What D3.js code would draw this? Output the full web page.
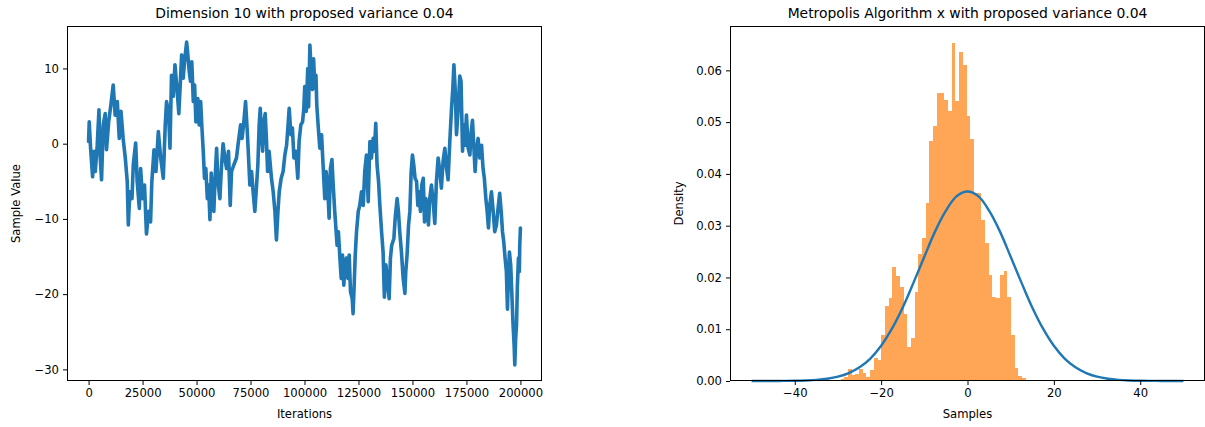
<!DOCTYPE html>
<html>
<head>
<meta charset="utf-8">
<script src="https://cdn.jsdelivr.net/npm/d3@7"></script>
<style>
  body { margin: 0; background: #fff; }
  text { font-family: "DejaVu Sans", sans-serif; fill: #000; }
</style>
</head>
<body>
<svg id="fig" width="1205" height="427"></svg>
<script>
// ---- Trace of the Metropolis chain (dimension 10) ----
const traceIter = [
  0, 300, 600, 926, 1850, 2470, 3090, 4000, 4800, 5400, 6000, 6800, 7700, 8300, 9300, 10300, 11400, 12300, 13300, 14200,
  15000, 16000, 17000, 17900, 18400, 19100, 20100, 20700, 21800, 22500, 23500, 24100, 25000, 25900, 26800, 27800, 28700, 29300, 30300, 31200,
  32300, 33400, 34600, 35500, 36100, 37000, 37700, 38400, 39200, 40000, 41000, 41800, 43100, 43800, 44600, 45400,
  45700, 46600, 47200, 47800, 48500, 49100, 49700, 50600, 51200, 51900, 52500, 53100, 53700, 54300, 55000, 55600, 56200, 56800, 57400, 58000,
  58600, 59300, 59900, 60800, 61600, 62300, 63100, 63900, 64800, 65600, 66200, 67300, 68500, 69400, 70400, 71100, 71900, 72700, 73500, 74100,
  74700, 75500, 76200, 77000, 77800, 78400, 79000, 79500, 80100, 80600, 81200, 81800, 82400, 82900, 83600, 84700, 85500, 86300, 87000, 87700,
  88300, 89200, 90100, 90900, 91700, 92400, 92900, 93700, 94400, 95100, 96000, 96900, 97500, 98300, 99100, 99700, 100100, 100800, 101500,
  101900, 102500, 103100, 103700, 104200, 104800, 105300, 105700, 106300, 107100, 107900, 108600, 109400, 110000, 110700, 111400, 112000, 112700, 113300, 114000,
  115100, 115700, 116400, 117000, 117600, 118200, 118800, 119400, 120100, 120700, 121300, 122100, 122500, 123000, 123500, 124100, 124900, 125600, 126400, 127200,
  127900, 128700, 129500, 130300, 131000, 131800, 132400, 133000, 133600, 134300, 134900, 135700, 136400, 137000, 137700, 138300, 139200, 139800, 140400, 141400,
  142000, 142900, 143500, 144100, 144900, 145700, 146500, 146900, 147500, 148200, 148800, 149400, 150000, 150600, 151200, 151900, 152500, 153100, 153700, 154300,
  155000, 155600, 156200, 157100,
  157400, 158000, 158800, 159600, 160350, 161100, 161900, 162700, 163400, 164200, 165000, 165800, 166500, 167300, 168100, 168700, 169200, 169800, 170400, 171200,
  171900, 172500, 173200, 173800, 174400, 175000, 175800, 176600, 177200, 177800, 178400, 179000, 179600, 180400, 181200, 182000, 182700, 183300, 184000, 184600,
  185200, 185800, 186600, 187400, 188100, 188900, 189500, 190400, 191100, 191700, 192300, 192900, 193500, 194000, 194500, 194900, 195500, 196000, 196600, 197100,
  197400, 197800, 198200, 198600, 199100, 199500, 199700, 200000
];
const traceValue = [
  0.3, 2.9, 1.2, -0.6, -4.4, -1.0, -3.7, -0.2, 4.5, -1.9, -4.8, 2.5, 4.0, -0.8, 2.9, 5.1, 7.8, 3.8, 5.6, 0.7,
  4.3, 0.7, -1.9, -5.0, -10.8, -6.4, -7.3, -2.8, 0.1, -5.0, -8.6, -3.3, -7.3, -5.5, -12.0, -9.0, -10.4, -5.0, -0.8, -3.7,
  1.6, -1.9, -4.6, 2.5, 5.6, 4.3, -0.6, 9.1, 6.3, 10.5, 7.1, 4.0, 11.8, 8.7, 11.4, 13.5,
  12.7, 9.6, 8.3, 10.9, 5.6, 7.8, 2.9, 6.0, 2.5, 5.6, 2.1, -1.0, -4.6, -3.3, -7.3, -5.5, -10.1, -3.9, -7.3, -9.0,
  -4.6, -0.6, -5.0, -7.3, -2.8, 0.0, -1.9, -3.3, -1.0, -8.2, -3.7, -2.8, -1.9, 0.3, 2.5, 0.7, 2.9, 5.6, 1.6, -1.9,
  -5.5, -3.7, -6.4, -9.0, -5.5, -2.8, 2.5, 4.7, 1.2, -1.0, 2.9, 4.0, 0.3, -3.7, -1.0, -4.6, -6.4, -9.0, -12.8, -9.0,
  -6.4, -4.6, -3.7, -1.5, -0.2, 2.5, 4.7, 1.2, 2.1, -1.9, -1.0, -4.6, 0.3, 2.5, 2.9, 4.7, 7.6, 4.3, 10.0,
  4.9, 13.1, 9.6, 7.2, 11.3, 7.4, 9.1, 5.1, 2.5, -0.6, 1.2, -2.8, -7.3, -3.7, -5.5, -9.9, -3.3, -2.1, -5.5, -9.0,
  -13.5, -11.7, -15.2, -17.9, -14.8, -18.8, -16.1, -15.2, -17.9, -14.8, -19.7, -20.6, -22.6, -18.8, -14.8, -11.7, -9.0, -8.2, -6.4, -8.2,
  -3.7, -1.5, -7.7, 0.3, -1.9, 0.7, -1.0, 2.7, -2.8, -5.0, -8.2, -11.7, -14.4, -20.4, -16.1, -17.9, -20.6, -15.2, -13.5, -12.6,
  -9.9, -7.3, -9.0, -11.7, -14.4, -17.9, -19.9, -17.0, -14.8, -10.8, -9.0, -3.7, -1.5, -2.8, -4.6, -5.0, -8.2, -6.4, -9.0, -5.5,
  -4.6, -10.4, -7.3, -9.0,
  -10.8, -7.3, -5.5, -7.7, -10.6, -5.0, -1.9, -3.7, -5.9, -2.3, -0.6, -3.3, -4.8, 0.3, 4.7, 7.4, 10.5, 7.2, 1.2, 4.7,
  9.0, 8.3, -1.0, 2.5, -0.2, 3.8, -0.6, -1.5, 1.6, 3.1, -0.2, -3.7, -1.0, 0.7, -1.9, -0.2, -3.3, -4.6, -7.3, -9.0,
  -11.2, -8.2, -6.4, -9.0, -11.7, -10.8, -9.0, -6.6, -9.0, -11.7, -13.1, -15.2, -17.0, -22.0, -17.0, -14.4, -16.1, -19.7, -24.1, -26.8,
  -29.4, -25.9, -24.1, -18.8, -15.2, -17.0, -13.5, -11.2
];
const traceXTicks = [0, 25000, 50000, 75000, 100000, 125000, 150000, 175000, 200000];
const traceYTicks = [-30, -20, -10, 0, 10];

// ---- Histogram of the samples (50 equal bins over the sample range), density ----
const histDensity = [
  0.0003, 0.0008, 0.0024, 0.0011, 0.0014, 0.0024, 0.0015, 0.0007, 0.0021, 0.0045,
  0.0040, 0.0088, 0.0144, 0.0160, 0.0220, 0.0202, 0.0181, 0.0130, 0.0066, 0.0083,
  0.0172, 0.0245, 0.0276, 0.0344, 0.0463, 0.0492, 0.0556, 0.0556, 0.0542, 0.0521,
  0.0653, 0.0541, 0.0635, 0.0610, 0.0511, 0.0467, 0.0364, 0.0364, 0.0310, 0.0267,
  0.0204, 0.0163, 0.0160, 0.0205, 0.0212, 0.0162, 0.0088, 0.0025, 0.0010, 0.0005
];
// ---- Target normal density ----
const pdfX = [-50, -47.5, -45, -42.5, -40, -37.5, -35, -32.5, -30, -27.5, -25, -22.5, -20, -17.5, -15, -12.5, -10, -7.5, -5, -2.5,
  0, 2.5, 5, 7.5, 10, 12.5, 15, 17.5, 20, 22.5, 25, 27.5, 30, 32.5, 35, 37.5, 40, 42.5, 45, 47.5, 50];
const pdfY = [0, 0, 0.00001, 0.00002, 0.00004, 0.0001, 0.00021, 0.00043, 0.00083, 0.00152, 0.00264, 0.00434, 0.0068, 0.0101, 0.0142, 0.0190, 0.0240, 0.0289, 0.0329, 0.0357,
  0.0366, 0.0357, 0.0329, 0.0289, 0.0240, 0.0190, 0.0142, 0.0101, 0.0068, 0.00434, 0.00264, 0.00152, 0.00083, 0.00043, 0.00021, 0.0001, 0.00004, 0.00002, 0.00001, 0, 0];
const histXTicks = [-40, -20, 0, 20, 40];
const histYTicks = [0, 0.01, 0.02, 0.03, 0.04, 0.05, 0.06];

const BLUE = "#1f77b4", ORANGE = "#ff7f0e";
const TICK_FONT = 11.6, TITLE_FONT = 13.9;
const svg = d3.select("#fig");

function pad(ext, f) { const d = (ext[1] - ext[0]) * f; return [ext[0] - d, ext[1] + d]; }

function frame(g, x0, x1, y0, y1) {
  g.append("rect").attr("x", x0 + 0.5).attr("y", y0 + 0.5)
    .attr("width", x1 - x0 - 1).attr("height", y1 - y0 - 1)
    .attr("fill", "none").attr("stroke", "#000").attr("stroke-width", 1);
}

function styleAxis(sel) {
  sel.select(".domain").remove();
  sel.selectAll(".tick line").attr("stroke", "#000").attr("stroke-width", 1);
  sel.selectAll(".tick text").style("font-size", TICK_FONT + "px").attr("fill", "#000")
    .style("font-family", '"DejaVu Sans", sans-serif');
}

// ================= Left panel: trace =================
{
  const L = { x0: 67, x1: 542, y0: 26, y1: 381 };
  const x = d3.scaleLinear().domain(pad(d3.extent(traceIter), 0.05)).range([L.x0, L.x1]);
  const y = d3.scaleLinear().domain(pad(d3.extent(traceValue), 0.05)).range([L.y1, L.y0]);
  const g = svg.append("g");

  g.append("defs").append("clipPath").attr("id", "clipL")
    .append("rect").attr("x", L.x0).attr("y", L.y0).attr("width", L.x1 - L.x0).attr("height", L.y1 - L.y0);

  // the dense chain reads as a thick band, so the stroke is wide
  g.append("path")
    .datum(traceIter.map((t, i) => [t, traceValue[i]]))
    .attr("clip-path", "url(#clipL)")
    .attr("fill", "none").attr("stroke", BLUE).attr("stroke-width", 3.6)
    .attr("stroke-linejoin", "round").attr("stroke-linecap", "round")
    .attr("d", d3.line().x(d => x(d[0])).y(d => y(d[1])));

  g.append("g").attr("transform", `translate(0,${L.y1})`)
    .call(d3.axisBottom(x).tickValues(traceXTicks).tickFormat(d3.format("d")).tickSize(4).tickPadding(4))
    .call(styleAxis);
  g.append("g").attr("transform", `translate(${L.x0},0)`)
    .call(d3.axisLeft(y).tickValues(traceYTicks).tickFormat(d3.format("d")).tickSize(4).tickPadding(4))
    .call(styleAxis);

  frame(g, L.x0, L.x1, L.y0, L.y1);

  g.append("text").attr("x", (L.x0 + L.x1) / 2).attr("y", 18).attr("text-anchor", "middle")
    .style("font-size", TITLE_FONT + "px").text("Dimension 10 with proposed variance 0.04");
  g.append("text").attr("x", (L.x0 + L.x1) / 2).attr("y", 418).attr("text-anchor", "middle")
    .style("font-size", TICK_FONT + "px").text("Iterations");
  g.append("text").attr("transform", `translate(20,${(L.y0 + L.y1) / 2}) rotate(-90)`)
    .attr("text-anchor", "middle").style("font-size", TICK_FONT + "px").text("Sample Value");
}

// ================= Right panel: histogram + normal pdf =================
{
  const R = { x0: 730, x1: 1205, y0: 26, y1: 381 };
  const x = d3.scaleLinear().domain(pad(d3.extent(pdfX), 0.05)).range([R.x0, R.x1]);
  const y = d3.scaleLinear().domain([0, d3.max(histDensity) * 1.05]).range([R.y1, R.y0]);
  const g = svg.append("g");

  const [lo, hi] = d3.extent(traceValue);
  const nb = histDensity.length, bw = (hi - lo) / nb;
  const bins = histDensity.map((d, i) => ({ a: lo + i * bw, b: lo + (i + 1) * bw, d }));

  g.append("g").selectAll("rect").data(bins).join("rect")
    .attr("x", d => x(d.a)).attr("width", d => x(d.b) - x(d.a))
    .attr("y", d => y(d.d)).attr("height", d => y(0) - y(d.d))
    .attr("fill", ORANGE).attr("fill-opacity", 0.7)
    .attr("shape-rendering", "crispEdges");

  g.append("path")
    .datum(pdfX.map((v, i) => [v, pdfY[i]]))
    .attr("fill", "none").attr("stroke", BLUE).attr("stroke-width", 2.4)
    .attr("d", d3.line().curve(d3.curveCatmullRom).x(d => x(d[0])).y(d => y(d[1])));

  g.append("g").attr("transform", `translate(0,${R.y1})`)
    .call(d3.axisBottom(x).tickValues(histXTicks).tickFormat(d3.format("d")).tickSize(4).tickPadding(4))
    .call(styleAxis);
  g.append("g").attr("transform", `translate(${R.x0},0)`)
    .call(d3.axisLeft(y).tickValues(histYTicks).tickFormat(d3.format(".2f")).tickSize(4).tickPadding(4))
    .call(styleAxis);

  frame(g, R.x0, R.x1, R.y0, R.y1);

  g.append("text").attr("x", (R.x0 + R.x1) / 2).attr("y", 18).attr("text-anchor", "middle")
    .style("font-size", TITLE_FONT + "px").text("Metropolis Algorithm x with proposed variance 0.04");
  g.append("text").attr("x", (R.x0 + R.x1) / 2).attr("y", 418).attr("text-anchor", "middle")
    .style("font-size", TICK_FONT + "px").text("Samples");
  g.append("text").attr("transform", `translate(683,${(R.y0 + R.y1) / 2}) rotate(-90)`)
    .attr("text-anchor", "middle").style("font-size", TICK_FONT + "px").text("Density");
}
</script>
</body>
</html>
